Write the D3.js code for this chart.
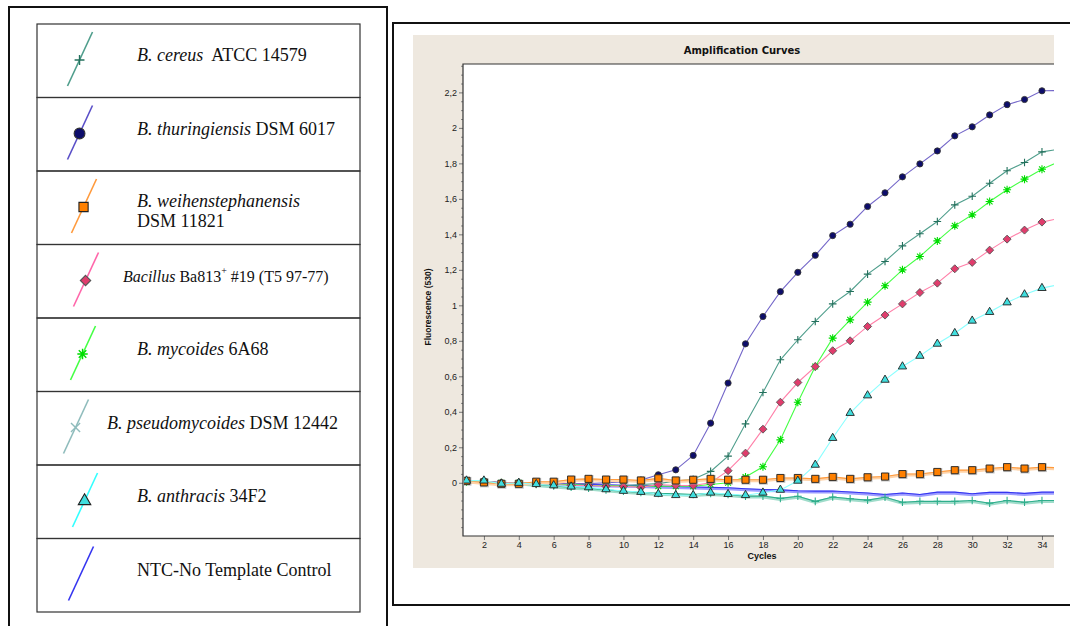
<!DOCTYPE html>
<html>
<head>
<meta charset="utf-8">
<script src="https://cdn.jsdelivr.net/npm/d3@7"></script>
<style>
  body { margin: 0; background: #fff; }
  svg { display: block; }
</style>
</head>
<body>
<svg id="chart" width="1070" height="626"></svg>
<script>
// cycle numbers on the x axis
const cycles = d3.range(1, 36);
const xTicks = [2, 4, 6, 8, 10, 12, 14, 16, 18, 20, 22, 24, 26, 28, 30, 32, 34];
const yTicks = [0, 0.2, 0.4, 0.6, 0.8, 1, 1.2, 1.4, 1.6, 1.8, 2, 2.2];

// fluorescence (530) per cycle
const ntc = [0.01, 0.008, 0, 0, -0.003, -0.005, -0.008, -0.01, -0.012, -0.014, -0.016, -0.019, -0.021, -0.024, -0.026, -0.028, -0.034, -0.038, -0.04, -0.045, -0.047, -0.046, -0.052, -0.058, -0.066, -0.058, -0.066, -0.053, -0.053, -0.062, -0.054, -0.054, -0.06, -0.053, -0.053];
const pseudomycoides = [0.012, 0.01, -0.005, 0, -0.01, -0.018, -0.025, -0.03, -0.04, -0.048, -0.055, -0.06, -0.062, -0.066, -0.06, -0.066, -0.075, -0.075, -0.088, -0.076, -0.105, -0.08, -0.09, -0.098, -0.082, -0.11, -0.105, -0.105, -0.105, -0.1, -0.115, -0.1, -0.11, -0.1, -0.1];
const cereus = [0.01, 0.01, 0, 0, -0.005, -0.01, -0.01, -0.015, -0.015, -0.015, -0.01, -0.005, 0.01, 0.02, 0.064, 0.15, 0.332, 0.509, 0.693, 0.806, 0.909, 1.008, 1.078, 1.176, 1.247, 1.335, 1.403, 1.472, 1.566, 1.615, 1.688, 1.758, 1.805, 1.865, 1.88];
const thuringiensis = [0.01, 0.01, 0, 0, 0, -0.005, -0.005, -0.005, 0, 0.005, 0.015, 0.045, 0.073, 0.154, 0.336, 0.562, 0.783, 0.937, 1.077, 1.186, 1.282, 1.393, 1.457, 1.557, 1.634, 1.724, 1.797, 1.87, 1.955, 2.006, 2.073, 2.131, 2.16, 2.209, 2.21];
const mycoides = [0.005, 0.005, 0, 0, -0.005, -0.01, -0.01, -0.015, -0.015, -0.02, -0.02, -0.02, -0.02, -0.02, -0.01, 0, 0.032, 0.09, 0.242, 0.454, 0.655, 0.815, 0.918, 1.018, 1.11, 1.2, 1.275, 1.363, 1.448, 1.51, 1.585, 1.651, 1.711, 1.767, 1.81];
const ba813 = [0.01, 0.01, 0, 0, -0.005, -0.01, -0.015, -0.015, -0.02, -0.02, -0.026, -0.01, -0.015, -0.015, 0, 0.068, 0.167, 0.302, 0.454, 0.565, 0.655, 0.744, 0.8, 0.881, 0.945, 1.008, 1.072, 1.125, 1.206, 1.242, 1.311, 1.373, 1.424, 1.469, 1.49];
const weihenstephanensis = [0.011, 0.002, -0.006, -0.006, 0.006, 0.006, 0.018, 0.022, 0.018, 0.018, 0.013, 0.025, 0.013, 0.017, 0.022, 0.017, 0.017, 0.017, 0.027, 0.027, 0.022, 0.033, 0.022, 0.031, 0.035, 0.049, 0.049, 0.061, 0.071, 0.071, 0.08, 0.088, 0.08, 0.088, 0.084];
const anthracis = [0.012, 0.012, -0.006, -0.001, -0.008, -0.015, -0.022, -0.026, -0.037, -0.046, -0.052, -0.063, -0.07, -0.07, -0.056, -0.064, -0.07, -0.056, -0.04, 0.011, 0.101, 0.252, 0.393, 0.492, 0.58, 0.655, 0.715, 0.783, 0.843, 0.913, 0.962, 1.016, 1.061, 1.097, 1.117];

// legend rows, top to bottom: [italic part, roman part]
const legendLabels = [
  ['B. cereus', '\u00a0 ATCC 14579'],
  ['B. thuringiensis', ' DSM 6017'],
  ['B. weihenstephanensis', 'DSM 11821'],
  ['Bacillus', ' Ba813'],
  ['B. mycoides', ' 6A68'],
  ['B. pseudomycoides', ' DSM 12442'],
  ['B. anthracis', ' 34F2'],
  ['', 'NTC-No Template Control']
];
const legendKeys = ['cereus', 'thur', 'weihen', 'ba813', 'mycoides', 'pseudo', 'anthracis', 'ntc'];

// styles per series
const style = {
  ntc:       { line: '#3535f0', halo: '#9c9cff', marker: null },
  pseudo:    { line: '#2fae8c', halo: '#9fdcca', marker: 'plus', fill: '#2fae8c', legendLine: '#8fbcbc', legendMarker: 'x' },
  cereus:    { line: '#4f9e8c', marker: 'plus', fill: '#23705c' },
  thur:      { line: '#7467c9', legendLine: '#5a4fc8', marker: 'circle', fill: '#0d0d6b', stroke: '#333', legendScale: 1.75 },
  mycoides:  { line: '#44ff44', marker: 'star', fill: '#00dd00' },
  ba813:     { line: '#ff7fa8', legendLine: '#ff66aa', marker: 'diamond', fill: '#e03c6c', stroke: '#555' },
  weihen:    { line: '#ff9a3c', halo: '#ffd3a8', marker: 'square', fill: '#ff8000', stroke: '#222' },
  anthracis: { line: '#8affff', legendLine: '#33ffff', marker: 'triangle', fill: '#40dede', stroke: '#222', legendScale: 1.5 }
};

const drawOrder = [
  ['ntc', ntc], ['pseudo', pseudomycoides], ['cereus', cereus], ['thur', thuringiensis],
  ['mycoides', mycoides], ['ba813', ba813], ['weihen', weihenstephanensis], ['anthracis', anthracis]
];

const svg = d3.select('#chart');
svg.append('rect').attr('width', 1070).attr('height', 626).attr('fill', '#fff');

function markerPath(kind, s) {
  switch (kind) {
    case 'circle': return d3.symbol(d3.symbolCircle, 30 * s * s)();
    case 'square': return d3.symbol(d3.symbolSquare, 50 * s * s)();
    case 'diamond': { const r = 4 * s; return `M0,${-r}L${r},0L0,${r}L${-r},0Z`; }
    case 'triangle': return d3.symbol(d3.symbolTriangle, 30 * s * s)();
    case 'plus': { const r = 3.8 * s; return `M${-r},0H${r}M0,${-r}V${r}`; }
    case 'x': { const r = 3.5 * s; return `M${-r},${-r}L${r},${r}M${-r},${r}L${r},${-r}`; }
    case 'star': { const r = 4 * s, q = 2.9 * s; return `M${-r},0H${r}M0,${-r}V${r}M${-q},${-q}L${q},${q}M${-q},${q}L${q},${-q}`; }
  }
  return null;
}
const strokeOnly = k => k === 'plus' || k === 'x' || k === 'star';

// ---------- left legend table ----------
svg.append('rect').attr('x', 9).attr('y', 7).attr('width', 378).attr('height', 640)
  .attr('fill', 'none').attr('stroke', '#111').attr('stroke-width', 2);

const rowH = 73.5, tableTop = 24, tableL = 37, tableR = 360;
const textX = [137, 137, 137, 123, 137, 107, 137, 137];
const iconX = [80, 80, 84, 86, 83, 76, 85, 81];
const serif = '"Liberation Serif", "Times New Roman", serif';

legendLabels.forEach((lab, i) => {
  const top = tableTop + i * rowH;
  const key = legendKeys[i];
  const st = style[key];
  const g = svg.append('g');
  g.append('rect').attr('x', tableL).attr('y', top).attr('width', tableR - tableL).attr('height', rowH)
    .attr('fill', 'none').attr('stroke', '#333').attr('stroke-width', 1.2);
  const cx = iconX[i];
  g.append('line').attr('x1', cx - 12.5).attr('y1', top + 62).attr('x2', cx + 12.5).attr('y2', top + 8)
    .attr('stroke', st.legendLine || st.line).attr('stroke-width', 1.6);
  const mk = st.legendMarker || st.marker;
  if (mk) {
    const my = top + 36, mx = cx + 12.5 - (my - top - 8) / 54 * 25;
    g.append('path').attr('d', markerPath(mk, st.legendScale || 1.3)).attr('transform', `translate(${mx},${my})`)
      .attr('fill', strokeOnly(mk) ? 'none' : st.fill)
      .attr('stroke', strokeOnly(mk) ? (st.legendLine || st.fill) : (st.stroke || '#333'))
      .attr('stroke-width', strokeOnly(mk) ? 1.4 : 1.1);
  }
  const fs = i === 3 ? 16 : 18;
  const txt = g.append('text').attr('x', textX[i]).attr('y', top + 31)
    .attr('dominant-baseline', 'central')
    .attr('font-family', serif).attr('font-size', fs).attr('fill', '#111');
  if (i === 2) {
    txt.attr('y', top + 30).append('tspan').attr('font-style', 'italic').text(lab[0]);
    g.append('text').attr('x', textX[i]).attr('y', top + 50).attr('dominant-baseline', 'central')
      .attr('font-family', serif).attr('font-size', fs).attr('fill', '#111').text(lab[1]);
  } else {
    if (lab[0]) txt.append('tspan').attr('font-style', 'italic').text(lab[0]);
    txt.append('tspan').text(lab[1]);
    if (i === 3) {
      txt.append('tspan').attr('font-size', 10).attr('dy', -6).text('+');
      txt.append('tspan').attr('dy', 6).text(' #19 (T5 97-77)');
    }
  }
});

// ---------- right chart ----------
svg.append('path').attr('d', 'M1075,23H393V605H1075')
  .attr('fill', 'none').attr('stroke', '#111').attr('stroke-width', 2);

svg.append('rect').attr('x', 413).attr('y', 35).attr('width', 641).attr('height', 533).attr('fill', '#eee8df');

const plot = { l: 463, r: 1054, t: 64, b: 536 };
svg.append('rect').attr('x', plot.l).attr('y', plot.t).attr('width', plot.r - plot.l).attr('height', plot.b - plot.t)
  .attr('fill', '#fff');

const x = d3.scaleLinear().domain([0.8, 34.69]).range([plot.l, plot.r]);
const y = d3.scaleLinear().domain([-0.3, 2.36]).range([plot.b, plot.t]);

const locale = d3.formatLocale({ decimal: ',', thousands: '.', grouping: [3], currency: ['', ''] });
const fmt = locale.format('~g');

const axisFont = '"Liberation Sans", Arial, sans-serif';

// y axis
const minorY = d3.range(-0.25, 2.36, 0.05).filter(v => !yTicks.some(t => Math.abs(t - v) < 1e-6));
svg.append('g').attr('transform', `translate(${plot.l},0)`)
  .call(d3.axisLeft(y).tickValues(minorY).tickSize(2).tickFormat(''))
  .call(g => g.select('.domain').remove())
  .call(g => g.selectAll('line').attr('stroke', '#888'));
svg.append('g').attr('transform', `translate(${plot.l},0)`)
  .call(d3.axisLeft(y).tickValues(yTicks).tickSize(4).tickPadding(2).tickFormat(fmt))
  .call(g => g.select('.domain').remove())
  .call(g => g.selectAll('line').attr('stroke', '#777'))
  .call(g => g.selectAll('text').attr('font-family', axisFont).attr('font-size', 9).attr('fill', '#222'));

// x axis
svg.append('g').attr('transform', `translate(0,${plot.b})`)
  .call(d3.axisBottom(x).tickValues(xTicks).tickSize(4).tickPadding(2).tickFormat(d3.format('d')))
  .call(g => g.select('.domain').remove())
  .call(g => g.selectAll('line').attr('stroke', '#777'))
  .call(g => g.selectAll('text').attr('font-family', axisFont).attr('font-size', 9).attr('fill', '#222'));

// plot frame (open on the right)
svg.append('path').attr('d', `M${plot.r},${plot.t}H${plot.l}V${plot.b}H${plot.r}`)
  .attr('fill', 'none').attr('stroke', '#333').attr('stroke-width', 1.2);

svg.append('text').attr('x', 742).attr('y', 50).attr('text-anchor', 'middle').attr('dominant-baseline', 'central')
  .attr('font-family', '"DejaVu Sans", sans-serif').attr('font-weight', 'bold').attr('font-size', 10)
  .attr('fill', '#111').text('Amplification Curves');
svg.append('text').attr('transform', 'translate(428,307) rotate(-90)').attr('text-anchor', 'middle')
  .attr('dominant-baseline', 'central')
  .attr('font-family', axisFont).attr('font-weight', 'bold').attr('font-size', 8.5)
  .attr('fill', '#111').text('Fluorescence (530)');
svg.append('text').attr('x', 762).attr('y', 556).attr('text-anchor', 'middle').attr('dominant-baseline', 'central')
  .attr('font-family', axisFont).attr('font-weight', 'bold').attr('font-size', 9)
  .attr('fill', '#111').text('Cycles');

svg.append('clipPath').attr('id', 'clip').append('rect')
  .attr('x', plot.l + 1).attr('y', plot.t + 1).attr('width', plot.r - plot.l - 1).attr('height', plot.b - plot.t - 2);

const layer = svg.append('g').attr('clip-path', 'url(#clip)');
const line = d3.line().x((d, i) => x(cycles[i])).y(d => y(d));

drawOrder.forEach(([key, vals]) => {
  const st = style[key];
  if (st.halo) {
    layer.append('path').datum(vals).attr('d', line).attr('fill', 'none')
      .attr('stroke', st.halo).attr('stroke-width', 3).attr('transform', 'translate(0,1)');
  }
  layer.append('path').datum(vals).attr('d', line).attr('fill', 'none')
    .attr('stroke', st.line).attr('stroke-width', 1.1);
});

drawOrder.forEach(([key, vals]) => {
  const st = style[key];
  if (!st.marker) return;
  const so = strokeOnly(st.marker);
  if (st.marker === 'square') {
    layer.selectAll(null).data(vals).join('path')
      .attr('d', markerPath('square', 1.25))
      .attr('transform', (d, i) => `translate(${x(cycles[i]) + 0.5},${y(d) + 0.5})`)
      .attr('fill', '#999').attr('opacity', 0.6);
  }
  layer.selectAll(null).data(vals).join('path')
    .attr('d', markerPath(st.marker, 1))
    .attr('transform', (d, i) => `translate(${x(cycles[i])},${y(d)})`)
    .attr('fill', so ? 'none' : st.fill)
    .attr('stroke', so ? st.fill : st.stroke)
    .attr('stroke-width', so ? 1.1 : 0.9);
});
</script>
</body>
</html>
